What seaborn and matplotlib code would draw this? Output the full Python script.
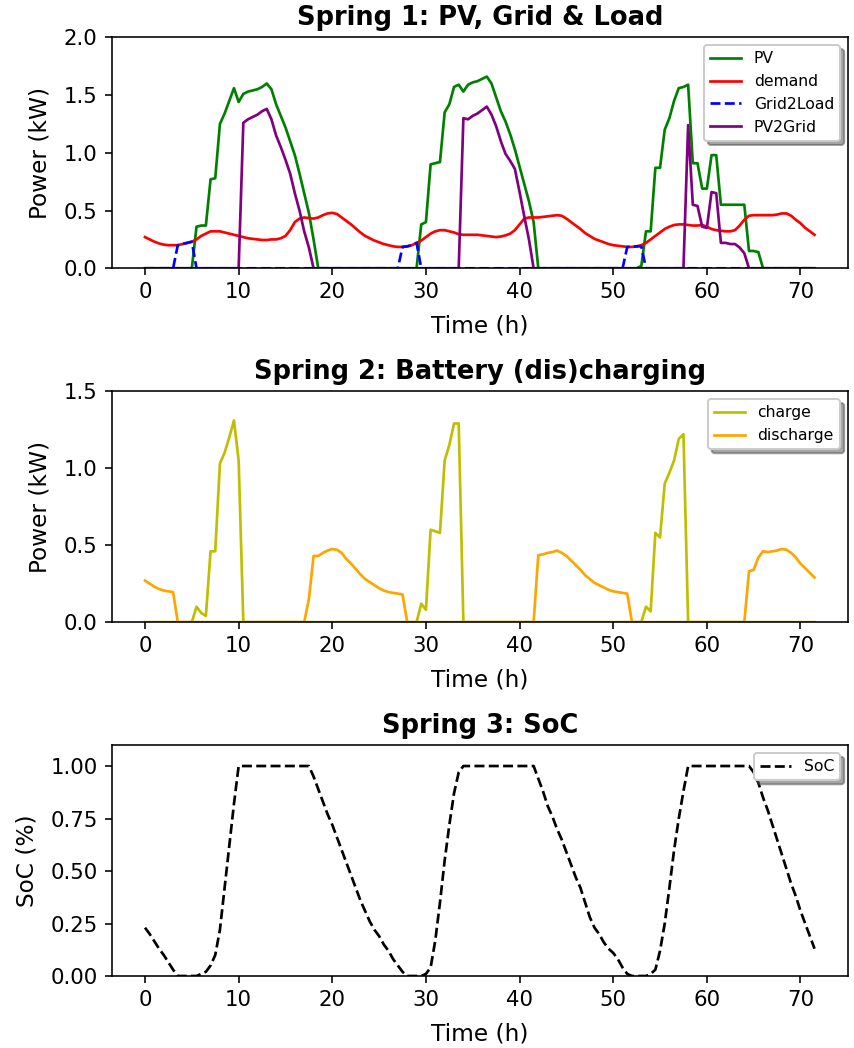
import numpy as np
import pandas as pd
import matplotlib
matplotlib.use("Agg")
import matplotlib.pyplot as plt
import seaborn as sns

# ---------------- data (half-hour resolution, 72 h) ----------------
TIME_STEP_H = 0.5
N_STEPS = 144
hours = [i * TIME_STEP_H for i in range(N_STEPS)]

demand = [
    0.27, 0.25, 0.23, 0.215, 0.205, 0.20, 0.20, 0.20, 0.21, 0.22, 0.23, 0.25,
    0.28, 0.30, 0.32, 0.32, 0.32, 0.31, 0.30, 0.29, 0.28, 0.27, 0.26, 0.255,
    0.25, 0.245, 0.245, 0.25, 0.25, 0.26, 0.28, 0.33, 0.40, 0.43, 0.44, 0.435,
    0.43, 0.44, 0.46, 0.475, 0.48, 0.47, 0.44, 0.41, 0.38, 0.345, 0.31, 0.28,
    0.26, 0.24, 0.225, 0.21, 0.20, 0.19, 0.185, 0.185, 0.19, 0.20, 0.22, 0.24,
    0.27, 0.30, 0.32, 0.33, 0.33, 0.32, 0.31, 0.295, 0.29, 0.29, 0.29, 0.29,
    0.285, 0.28, 0.275, 0.27, 0.275, 0.285, 0.30, 0.33, 0.38, 0.43, 0.44, 0.44,
    0.44, 0.445, 0.45, 0.455, 0.46, 0.455, 0.43, 0.40, 0.37, 0.34, 0.305, 0.28,
    0.255, 0.24, 0.225, 0.21, 0.20, 0.195, 0.19, 0.185, 0.185, 0.19, 0.20, 0.22,
    0.25, 0.28, 0.31, 0.34, 0.36, 0.375, 0.38, 0.38, 0.375, 0.37, 0.37, 0.375,
    0.36, 0.34, 0.33, 0.325, 0.32, 0.32, 0.33, 0.37, 0.42, 0.455, 0.46, 0.46,
    0.46, 0.46, 0.46, 0.465, 0.475, 0.475, 0.455, 0.42, 0.39, 0.35, 0.32, 0.29,
]

pv = [
    0, 0, 0, 0, 0, 0, 0, 0, 0, 0, 0, 0.36,
    0.37, 0.37, 0.77, 0.78, 1.25, 1.34, 1.45, 1.56, 1.44, 1.51, 1.53, 1.54,
    1.55, 1.57, 1.60, 1.55, 1.42, 1.32, 1.22, 1.10, 0.98, 0.82, 0.65, 0.48,
    0.25, 0, 0, 0, 0, 0, 0, 0, 0, 0, 0, 0,
    0, 0, 0, 0, 0, 0, 0, 0, 0, 0, 0, 0.38,
    0.40, 0.90, 0.91, 0.92, 1.35, 1.42, 1.57, 1.59, 1.53, 1.59, 1.61, 1.62,
    1.64, 1.66, 1.60, 1.48, 1.36, 1.27, 1.16, 1.03, 0.88, 0.73, 0.58, 0.40,
    0, 0, 0, 0, 0, 0, 0, 0, 0, 0, 0, 0,
    0, 0, 0, 0, 0, 0, 0, 0, 0, 0, 0.02, 0.32,
    0.32, 0.87, 0.87, 1.20, 1.30, 1.45, 1.56, 1.57, 1.59, 0.91, 0.91, 0.69,
    0.69, 0.98, 0.98, 0.55, 0.55, 0.55, 0.55, 0.55, 0.55, 0.15, 0.15, 0.14,
    0, 0, 0, 0, 0, 0, 0, 0, 0, 0, 0, 0,
]

grid2load = [
    0, 0, 0, 0, 0, 0, 0, 0.20, 0.21, 0.22, 0.23, 0,
    0, 0, 0, 0, 0, 0, 0, 0, 0, 0, 0, 0,
    0, 0, 0, 0, 0, 0, 0, 0, 0, 0, 0, 0,
    0, 0, 0, 0, 0, 0, 0, 0, 0, 0, 0, 0,
    0, 0, 0, 0, 0, 0, 0, 0.185, 0.19, 0.20, 0.22, 0,
    0, 0, 0, 0, 0, 0, 0, 0, 0, 0, 0, 0,
    0, 0, 0, 0, 0, 0, 0, 0, 0, 0, 0, 0,
    0, 0, 0, 0, 0, 0, 0, 0, 0, 0, 0, 0,
    0, 0, 0, 0, 0, 0, 0, 0.185, 0.185, 0.19, 0.19, 0,
    0, 0, 0, 0, 0, 0, 0, 0, 0, 0, 0, 0,
    0, 0, 0, 0, 0, 0, 0, 0, 0, 0, 0, 0,
    0, 0, 0, 0, 0, 0, 0, 0, 0, 0, 0, 0,
]

pv2grid = [
    0, 0, 0, 0, 0, 0, 0, 0, 0, 0, 0, 0,
    0, 0, 0, 0, 0, 0, 0, 0, 0, 1.26, 1.29, 1.31,
    1.33, 1.36, 1.38, 1.29, 1.15, 1.05, 0.94, 0.82, 0.65, 0.50, 0.32, 0.18,
    0, 0, 0, 0, 0, 0, 0, 0, 0, 0, 0, 0,
    0, 0, 0, 0, 0, 0, 0, 0, 0, 0, 0, 0,
    0, 0, 0, 0, 0, 0, 0, 0, 1.30, 1.29, 1.32, 1.34,
    1.37, 1.40, 1.33, 1.23, 1.10, 0.99, 0.93, 0.86, 0.66, 0.45, 0.25, 0,
    0, 0, 0, 0, 0, 0, 0, 0, 0, 0, 0, 0,
    0, 0, 0, 0, 0, 0, 0, 0, 0, 0, 0, 0,
    0, 0, 0, 0, 0, 0, 0, 0, 1.24, 0.55, 0.54, 0.36,
    0.35, 0.66, 0.65, 0.22, 0.22, 0.21, 0.21, 0.18, 0.13, 0, 0, 0,
    0, 0, 0, 0, 0, 0, 0, 0, 0, 0, 0, 0,
]

charge = [
    0, 0, 0, 0, 0, 0, 0, 0, 0, 0, 0, 0.10,
    0.06, 0.04, 0.46, 0.46, 1.03, 1.10, 1.20, 1.31, 1.05, 0, 0, 0,
    0, 0, 0, 0, 0, 0, 0, 0, 0, 0, 0, 0,
    0, 0, 0, 0, 0, 0, 0, 0, 0, 0, 0, 0,
    0, 0, 0, 0, 0, 0, 0, 0, 0, 0, 0, 0.12,
    0.08, 0.60, 0.59, 0.58, 1.05, 1.15, 1.29, 1.29, 0, 0, 0, 0,
    0, 0, 0, 0, 0, 0, 0, 0, 0, 0, 0, 0,
    0, 0, 0, 0, 0, 0, 0, 0, 0, 0, 0, 0,
    0, 0, 0, 0, 0, 0, 0, 0, 0, 0, 0, 0.10,
    0.07, 0.58, 0.55, 0.90, 0.97, 1.05, 1.19, 1.22, 0, 0, 0, 0,
    0, 0, 0, 0, 0, 0, 0, 0, 0, 0, 0, 0,
    0, 0, 0, 0, 0, 0, 0, 0, 0, 0, 0, 0,
]

discharge = [
    0.27, 0.25, 0.23, 0.215, 0.205, 0.20, 0.195, 0, 0, 0, 0, 0,
    0, 0, 0, 0, 0, 0, 0, 0, 0, 0, 0, 0,
    0, 0, 0, 0, 0, 0, 0, 0, 0, 0, 0, 0.15,
    0.43, 0.43, 0.45, 0.465, 0.475, 0.47, 0.45, 0.41, 0.38, 0.345, 0.31, 0.28,
    0.26, 0.24, 0.22, 0.205, 0.195, 0.19, 0.185, 0.18, 0, 0, 0, 0,
    0, 0, 0, 0, 0, 0, 0, 0, 0, 0, 0, 0,
    0, 0, 0, 0, 0, 0, 0, 0, 0, 0, 0, 0,
    0.435, 0.44, 0.45, 0.455, 0.465, 0.45, 0.43, 0.40, 0.37, 0.34, 0.305, 0.28,
    0.255, 0.24, 0.225, 0.21, 0.20, 0.195, 0.19, 0.185, 0, 0, 0, 0,
    0, 0, 0, 0, 0, 0, 0, 0, 0, 0, 0, 0,
    0, 0, 0, 0, 0, 0, 0, 0, 0, 0.33, 0.34, 0.42,
    0.46, 0.455, 0.46, 0.465, 0.475, 0.47, 0.45, 0.42, 0.38, 0.35, 0.32, 0.29,
]

soc = [
    0.23, 0.20, 0.165, 0.13, 0.10, 0.065, 0.03, 0.0, 0, 0, 0, 0,
    0.01, 0.02, 0.05, 0.10, 0.22, 0.42, 0.62, 0.82, 1.0, 1.0, 1.0, 1.0,
    1.0, 1.0, 1.0, 1.0, 1.0, 1.0, 1.0, 1.0, 1.0, 1.0, 1.0, 1.0,
    0.95, 0.89, 0.83, 0.77, 0.72, 0.66, 0.60, 0.54, 0.48, 0.42, 0.36, 0.31,
    0.26, 0.22, 0.19, 0.15, 0.12, 0.08, 0.05, 0.02, 0, 0, 0, 0,
    0.01, 0.04, 0.17, 0.35, 0.55, 0.72, 0.87, 0.97, 1.0, 1.0, 1.0, 1.0,
    1.0, 1.0, 1.0, 1.0, 1.0, 1.0, 1.0, 1.0, 1.0, 1.0, 1.0, 1.0,
    0.94, 0.88, 0.81, 0.76, 0.70, 0.65, 0.59, 0.53, 0.47, 0.42, 0.35, 0.28,
    0.23, 0.20, 0.16, 0.13, 0.11, 0.08, 0.04, 0.01, 0, 0, 0, 0,
    0.01, 0.03, 0.12, 0.25, 0.42, 0.60, 0.75, 0.88, 1.0, 1.0, 1.0, 1.0,
    1.0, 1.0, 1.0, 1.0, 1.0, 1.0, 1.0, 1.0, 1.0, 1.0, 0.97, 0.92,
    0.85, 0.79, 0.72, 0.65, 0.58, 0.51, 0.44, 0.38, 0.31, 0.25, 0.19, 0.13,
]

titles = ["Spring 1: PV, Grid & Load", "Spring 2: Battery (dis)charging", "Spring 3: SoC"]
x_ticks = [0, 10, 20, 30, 40, 50, 60, 70]

df = pd.DataFrame({
    "time": hours, "PV": pv, "demand": demand, "Grid2Load": grid2load,
    "PV2Grid": pv2grid, "charge": charge, "discharge": discharge, "SoC": soc,
})

# ---------------- figure ----------------
DPI = 144
fig, axes = plt.subplots(3, 1, figsize=(854 / DPI, 1048 / DPI), dpi=DPI)
fig.subplots_adjust(left=0.1306, right=0.993, top=0.9644, bottom=0.0687, hspace=0.532)

TICK_FS = 10.6
LABEL_FS = 11.6
TITLE_FS = 12.9
LEG_FS = 7.8
LW = 1.35


def draw(ax, col, color, ls="-"):
    sns.lineplot(data=df, x="time", y=col, ax=ax, color=color, label=col,
                 linewidth=LW, errorbar=None)
    ax.lines[-1].set_linestyle(ls)


ax = axes[0]
draw(ax, "PV", "green")
draw(ax, "demand", "red")
draw(ax, "Grid2Load", "blue", "--")
draw(ax, "PV2Grid", "purple")
ax.set_ylim(0, 2.0)
ax.set_yticks([0.0, 0.5, 1.0, 1.5, 2.0])
ax.set_ylabel("Power (kW)", fontsize=LABEL_FS, labelpad=6)

ax = axes[1]
draw(ax, "charge", "y")
draw(ax, "discharge", "orange")
ax.set_ylim(0, 1.5)
ax.set_yticks([0.0, 0.5, 1.0, 1.5])
ax.set_ylabel("Power (kW)", fontsize=LABEL_FS, labelpad=6)

ax = axes[2]
draw(ax, "SoC", "k", "--")
ax.set_ylim(0, 1.1)
ax.set_yticks([0.0, 0.25, 0.5, 0.75, 1.0])
ax.yaxis.set_major_formatter(matplotlib.ticker.FormatStrFormatter("%.2f"))
ax.set_ylabel("SoC (%)", fontsize=LABEL_FS, labelpad=6)

for i, ax in enumerate(axes):
    ax.set_title(titles[i], fontsize=TITLE_FS, fontweight="bold")
    ax.set_xlabel("Time (h)", fontsize=LABEL_FS, labelpad=6)
    ax.set_xticks(x_ticks)
    ax.tick_params(labelsize=TICK_FS)
    if i < 2:
        ax.yaxis.set_major_formatter(matplotlib.ticker.FormatStrFormatter("%.1f"))
    ax.legend(loc="upper right", fontsize=LEG_FS, shadow=True)

fig.savefig("out.png", dpi=DPI)
